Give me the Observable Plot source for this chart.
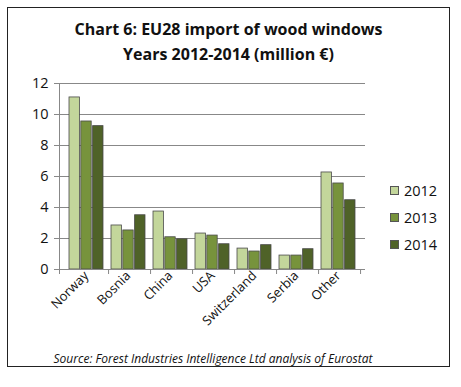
<!DOCTYPE html>
<html>
<head>
<meta charset="utf-8">
<script src="https://cdn.jsdelivr.net/npm/d3@7"></script>
<script src="https://cdn.jsdelivr.net/npm/@observablehq/plot@0.6"></script>
<style>
  html, body { margin: 0; padding: 0; background: #fff; }
  #wrap { position: relative; width: 461px; height: 387px; overflow: hidden; font-family: "Open Sans", "Liberation Sans", sans-serif; color: #111; }
  #frame { position: absolute; left: 7px; top: 7px; width: 443px; height: 360px; border: 1.5px solid #222; box-sizing: border-box; }
  #title { position: absolute; left: 7px; width: 443px; top: 17px; text-align: center; font-weight: bold; font-size: 16px; line-height: 25px; }
  #chart { position: absolute; left: 0; top: 0; }
  #legend { position: absolute; left: 390px; top: 177px; font-size: 14.5px; line-height: 27px; }
  #legend .it { display: flex; align-items: center; }
  #legend .sw { width: 9px; height: 9px; border: 1px solid #555; margin-right: 5px; box-sizing: border-box; }
  #caption { position: absolute; left: 0; width: 426px; top: 350px; text-align: center; font-style: italic; font-size: 12px; }
</style>
</head>
<body>
<div id="wrap">
  <div id="frame"></div>
  <div id="chart"></div>
  <div id="title">Chart 6: EU28 import of wood windows<br>Years 2012-2014 (million €)</div>
  <div id="legend"></div>
  <div id="caption">Source: Forest Industries Intelligence Ltd analysis of Eurostat</div>
</div>
<script>
const countries = ["Norway", "Bosnia", "China", "USA", "Switzerland", "Serbia", "Other"];
const years = ["2012", "2013", "2014"];
const v2012 = [11.1, 2.84, 3.74, 2.32, 1.35, 0.9, 6.26];
const v2013 = [9.55, 2.52, 2.08, 2.19, 1.16, 0.9, 5.55];
const v2014 = [9.25, 3.5, 1.95, 1.63, 1.57, 1.31, 4.47];
const yTicks = [0, 2, 4, 6, 8, 10, 12];
const colors = ["#c3d69b", "#77933c", "#4f6228"];

const series = [v2012, v2013, v2014];
const data = [];
years.forEach((yr, i) => countries.forEach((c, j) => data.push({country: c, year: yr, value: series[i][j]})));

const mL = 59, mR = 96, mT = 83, mB = 118, W = 461, H = 387;
const pad = 0.19;
const step = (W - mL - mR) / countries.length;
const bw = step * (1 - pad);
const third = bw / 3;

const barMarks = years.map((yr, i) => Plot.barY(data.filter(d => d.year === yr), {
  x: "country", y: "value", fill: colors[i], stroke: "#4a4a4a", strokeWidth: 0.8,
  insetLeft: i * third, insetRight: (2 - i) * third
}));

const chart = Plot.plot({
  width: W, height: H,
  marginLeft: mL, marginRight: mR, marginTop: mT, marginBottom: mB,
  style: {fontFamily: "'Open Sans', sans-serif", color: "#111", background: "transparent"},
  x: {domain: countries, padding: pad, label: null, tickRotate: -45, tickSize: 0},
  y: {domain: [0, 12], ticks: yTicks, label: null},
  marks: [
    Plot.gridY(yTicks.filter(t => t > 0), {stroke: "#888", strokeOpacity: 1, strokeWidth: 1}),
    ...barMarks,
    Plot.axisY({ticks: yTicks, tickSize: 5, tickPadding: 6, fontSize: 14.5, label: null, stroke: "#888", tickFormat: d => String(d)}),
    Plot.ruleY([0], {stroke: "#888"}),
    Plot.axisX({tickRotate: -45, tickSize: 0, tickPadding: 4, fontSize: 13, label: null, textAnchor: "end"})
  ]
});
document.getElementById("chart").appendChild(chart);

// left axis line and category separator ticks
const svg = d3.select(chart);
const x = chart.scale("x"), y = chart.scale("y");
const y0 = y.apply(0), y12 = y.apply(12);
svg.append("line").attr("x1", mL + 0.5).attr("x2", mL + 0.5).attr("y1", y12).attr("y2", y0 + 5).attr("stroke", "#888");
countries.forEach((c, j) => {
  const xe = x.apply(c) + bw + (step - bw) / 2;
  svg.append("line").attr("x1", xe).attr("x2", xe).attr("y1", y0).attr("y2", y0 + 5).attr("stroke", "#888");
});

const leg = document.getElementById("legend");
years.forEach((yr, i) => {
  const it = document.createElement("div"); it.className = "it";
  const sw = document.createElement("span"); sw.className = "sw"; sw.style.background = colors[i];
  const t = document.createElement("span"); t.textContent = yr;
  it.appendChild(sw); it.appendChild(t); leg.appendChild(it);
});
</script>
</body>
</html>
